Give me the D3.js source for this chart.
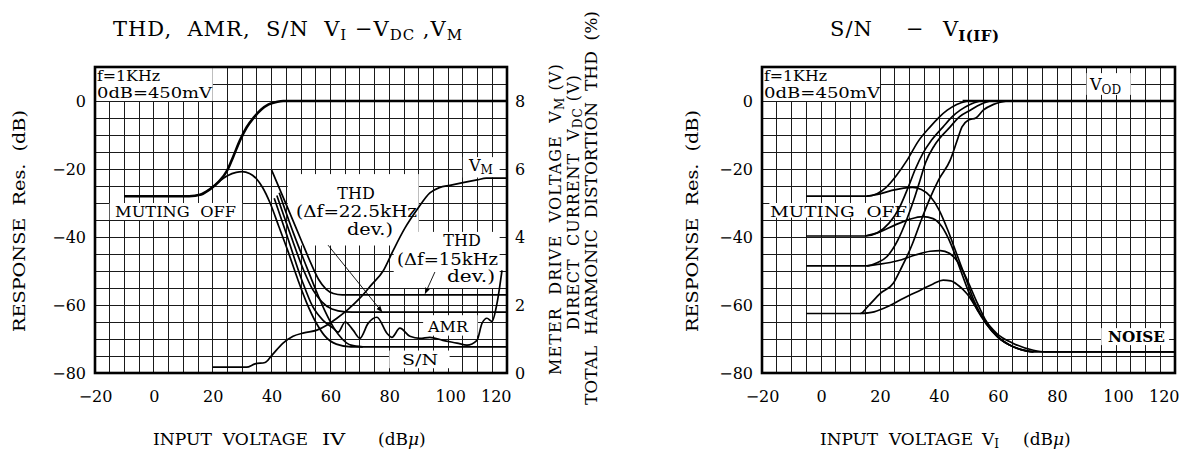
<!DOCTYPE html>
<html>
<head>
<meta charset="utf-8">
<script src="https://cdn.jsdelivr.net/npm/d3@7"></script>
<style>
  body { margin: 0; background: #fff; }
  svg { display: block; }
  text { font-family: "DejaVu Serif", "Liberation Serif", serif; fill: #000; white-space: pre; }
</style>
</head>
<body>
<script>
// ---- data ----
const xTicks = [-20, 0, 20, 40, 60, 80, 100, 120];
const dbTicks = [-80, -60, -40, -20, 0];
const voltTicks = [0, 2, 4, 6, 8];

// left chart: [input dBu, response dB]
const outputLevel = [[-10,-28],[12,-28],[16,-27.5],[19,-26],[22,-23.8],[25,-20.3],[27,-16.3],[29.3,-11.5],[31.5,-7.8],[34,-4.8],[36.5,-2.5],[39,-1],[42,-0.2],[44,0],[120,0]];
const snMutingOff = [[-10,-28],[12,-28],[16,-27.5],[19,-26],[22,-23.8],[25,-22],[28,-21],[30,-20.8],[32.5,-21.3],[35,-23],[37,-25.5],[39.5,-30],[42.5,-37],[45.5,-44],[49,-52.7],[52,-59.5],[55,-65],[58,-69],[62,-71.5],[67,-72.3],[120,-72.3]];
const thd15 = [[40,-20.3],[45,-30.5],[50,-40.8],[53.5,-48],[56,-52.5],[58.5,-55.3],[61,-56.6],[64,-57],[120,-57]];
const thd225 = [[41.8,-27.8],[46.5,-39.5],[51,-50],[54,-55.5],[57,-59],[60.5,-61.2],[65,-62],[70,-62.1],[120,-62.1]];
const amrLevel = [[40.9,-28.6],[45,-39],[50.3,-52.7],[54,-60.5],[57.5,-64.5],[60.9,-66.8],[62.6,-68],[65,-65],[67.7,-67.4],[70,-69.8],[72.8,-65.4],[75.8,-63.6],[79.2,-68.3],[80.9,-69.5],[83.6,-66.8],[87,-69.2],[90.4,-69.8],[93.8,-69.5],[98.2,-70.4],[103,-71.2],[106.4,-71.8],[109.8,-70.4],[111.5,-65.4],[113.2,-63.9],[114.9,-64.8],[116.6,-59.5],[118.3,-49.8]];
const snMuted = [[42.6,-27],[47.5,-39],[52,-49],[55,-55.5],[58,-61.5],[61,-66.5],[64,-70],[67,-71.8],[71,-72.3]];
// left chart: [input dBu, volts]
const meterDrive = [[20,0.17],[31.5,0.17],[34.4,0.27],[37.8,0.31],[40.1,0.52],[43.9,0.88],[47.3,1.08],[51,1.18],[55.4,1.26],[59,1.42],[62.2,1.61],[66,1.87],[70,2.2],[74,2.6],[77.9,3.0],[81.3,3.6],[85.3,4.26],[89.4,4.8],[93.8,5.3],[97,5.45],[100.6,5.52],[105,5.6],[109.8,5.68],[113,5.73],[120,5.73]];

// right chart: [input dBu, response dB]
const vodLine = [[48,0],[120,0]];
const signal28 = [[-5,-28],[15.6,-28],[19,-27.3],[22,-25.5],[25.5,-22],[29.2,-17.4],[33,-11.8],[37,-7.6],[40,-4.8],[42.8,-2.7],[46,-1],[49.6,0]];
const signal40 = [[-5,-39.7],[15,-39.7],[19,-38.8],[23,-36],[26.5,-31.5],[29.5,-25.5],[32,-20],[34.5,-15.5],[37.5,-11.5],[41.4,-7.6],[44.5,-4.6],[47.2,-2.7],[50.5,-1],[53.9,0]];
const signal49 = [[-5,-48.5],[15.6,-48.5],[19,-47.6],[22.3,-45.8],[26,-41],[29,-35],[31.5,-29],[33.5,-23.5],[35.5,-18],[38.5,-13],[43.8,-7.6],[47,-4.6],[50.6,-2.7],[54,-1],[57.3,0]];
const signal63 = [[-5,-62.5],[13.3,-62.5],[16,-60.3],[20.1,-56.6],[24.5,-53.6],[27,-49.5],[29.1,-45.8],[31,-42],[34,-35],[37,-28.5],[40,-23],[43.8,-17.4],[46,-12],[47.8,-7.6],[50,-5.6],[52.5,-5],[55,-2.7],[58.5,-1],[63.1,0]];
const noise28 = [[15.6,-28],[20,-27.3],[24,-26.3],[28,-25.6],[31,-25.4],[34,-26],[37,-28],[40,-32],[43,-38],[46,-45],[49,-52],[52,-59],[56,-65.5],[60,-69.5],[65,-72.2],[72,-73.8],[120,-73.8]];
const noise40 = [[15,-39.7],[20,-38.5],[25,-36.5],[30,-34.8],[34.5,-34],[38,-34.6],[41,-37],[44,-42],[47,-49],[50,-56],[53,-61.5],[56,-65.5],[60,-69.5],[65,-72.2],[72,-73.8]];
const noise49 = [[15.6,-48.5],[20,-48],[26,-47],[32,-45.3],[37,-44.2],[40.5,-44],[43.5,-44.8],[46.5,-47.5],[49.5,-52.5],[52.5,-58.5],[55.5,-64],[59,-68.5],[64,-71.8],[72,-73.8]];
const noise63 = [[13.3,-62.5],[18,-62],[23,-60.3],[28,-58],[34,-55.5],[38,-53.8],[41.4,-52.7],[44,-52.9],[46.5,-54.2],[49.4,-56.6],[53.9,-62.5],[57,-66],[59.6,-68.4],[65.2,-71.3],[72,-73.3],[76,-73.8],[120,-73.8]];

// ---- drawing ----
const W = 1184, H = 455;
const svg = d3.select("body").append("svg").attr("width", W).attr("height", H);
svg.append("rect").attr("width", W).attr("height", H).attr("fill", "#fff");

const minus = d => (d < 0 ? "\u2212" + Math.abs(d) : String(d));

const txt = (g, s, x, y, opt = {}) => {
  const t = g.append("text")
    .attr("x", x).attr("y", y)
    .attr("font-size", opt.size || 16)
    .attr("text-anchor", opt.anchor || "start")
    .text(s);
  if (opt.len) t.attr("textLength", opt.len).attr("lengthAdjust", "spacingAndGlyphs");
  if (opt.weight) t.attr("font-weight", opt.weight);
  if (opt.ls) t.attr("letter-spacing", opt.ls);
  return t;
};
const sub = (t, s, size, dy) => {
  t.append("tspan").attr("font-size", size).attr("dy", dy).text(s);
  return t;
};

// one grid panel, returns scales
const makePanel = (x0, x1, y0, y1) => {
  const x = d3.scaleLinear().domain([-20, 120]).range([x0, x1]);
  const y = d3.scaleLinear().domain([-80, 10]).range([y1, y0]);
  const g = svg.append("g");
  const grid = g.append("g").attr("stroke", "#1a1a1a").attr("stroke-width", 1).attr("shape-rendering", "crispEdges");
  grid.selectAll(".gx").data(d3.range(-20, 121, 5)).enter().append("line")
    .attr("x1", d => x(d)).attr("x2", d => x(d)).attr("y1", y0).attr("y2", y1);
  grid.selectAll(".gy").data(d3.range(-80, 11, 5)).enter().append("line")
    .attr("y1", d => y(d)).attr("y2", d => y(d)).attr("x1", x0).attr("x2", x1);
  const boxes = g.append("g");
  const curves = g.append("g").attr("fill", "none").attr("stroke", "#000").attr("stroke-linejoin", "round");
  g.append("rect").attr("x", x0).attr("y", y0).attr("width", x1 - x0).attr("height", y1 - y0)
    .attr("fill", "none").attr("stroke", "#000").attr("stroke-width", 2.6);
  const labels = g.append("g");

  // axes
  const ax = g.append("g").attr("transform", `translate(0,${y1})`)
    .call(d3.axisBottom(x).tickValues(xTicks).tickSize(0).tickPadding(18).tickFormat(minus));
  const ay = g.append("g").attr("transform", `translate(${x0},0)`)
    .call(d3.axisLeft(y).tickValues(dbTicks).tickSize(0).tickPadding(9).tickFormat(minus));
  [ax, ay].forEach(a => {
    a.select(".domain").remove();
    a.selectAll("text").attr("font-family", "DejaVu Serif").attr("font-size", 16).attr("fill", "#000");
    a.attr("font-family", null).attr("font-size", null);
  });
  // last label sits inside the frame edge, as printed
  ax.selectAll(".tick").filter(d => d === 120).select("text").attr("text-anchor", "end").attr("x", 4);
  ax.selectAll(".tick").filter(d => d === 100).select("text").attr("x", 2);

  const box = (a, b, c, d) => boxes.append("rect")
    .attr("x", x(a)).attr("y", y(c)).attr("width", x(b) - x(a)).attr("height", y(d) - y(c)).attr("fill", "#fff");
  const line = (data, w, sy) => curves.append("path").datum(data)
    .attr("stroke-width", w)
    .attr("d", d3.line().x(d => x(d[0])).y(d => (sy || y)(d[1])).curve(d3.curveMonotoneX));
  return { x, y, g, labels, box, line };
};

// ---------------- left chart ----------------
const L = makePanel(95, 507, 67, 373);
const yV = d3.scaleLinear().domain([0, 8]).range([L.y(-80), L.y(0)]);
const av = L.g.append("g").attr("transform", "translate(507,0)")
  .call(d3.axisRight(yV).tickValues(voltTicks).tickSize(0).tickPadding(8));
av.select(".domain").remove();
av.selectAll("text").attr("font-family", "DejaVu Serif").attr("font-size", 16).attr("fill", "#000");
av.attr("font-family", null).attr("font-size", null);

L.box(-20, 20, 10, 0);
L.box(-15, 30, -30, -35);
L.box(45.5, 90, -21.5, -42.5);
L.box(81.5, 117.5, -38.5, -55);
L.box(105, 117.5, -16.5, -22.5);
L.box(91.5, 110, -63, -69);
L.box(80, 100.5, -73.4, -78.6);

L.line(outputLevel, 2.6);
L.line(snMutingOff, 1.7);
L.line(thd15, 1.7);
L.line(thd225, 1.7);
L.line(amrLevel, 1.7);
L.line(snMuted, 1.7);
L.line(meterDrive, 1.7, yV);

const ll = L.labels;
txt(ll, "f=1KHz", 97, 81, { size: 15, len: 63 });
txt(ll, "0dB=450mV", 97, 98, { size: 15, len: 115 });
txt(ll, "MUTING  OFF", 115, 216.5, { size: 15, len: 121 });
txt(ll, "THD", 356, 198.5, { anchor: "middle", size: 16 });
txt(ll, "(\u0394f=22.5kHz", 296, 217, { size: 16, len: 121 });
txt(ll, "dev.)", 347, 235, { size: 16, len: 46 });
txt(ll, "THD", 462, 246, { anchor: "middle", size: 16 });
txt(ll, "(\u0394f=15kHz", 397, 265, { size: 16, len: 101 });
txt(ll, "dev.)", 447, 282, { size: 16, len: 48 });
sub(txt(ll, "V", 469, 171, { size: 16 }), "M", 12, 3);
txt(ll, "AMR", 428, 332, { size: 15, len: 40 });
txt(ll, "S/N", 402, 365, { size: 15, len: 36 });

// leader arrows
const defs = svg.append("defs");
defs.append("marker").attr("id", "ah").attr("viewBox", "0 0 10 10").attr("refX", 9).attr("refY", 5)
  .attr("markerWidth", 7).attr("markerHeight", 7).attr("orient", "auto")
  .append("path").attr("d", "M0,1 L10,5 L0,9 z").attr("fill", "#000");
ll.append("line").attr("x1", L.x(59.2)).attr("y1", L.y(-42.4)).attr("x2", L.x(77.5)).attr("y2", L.y(-62))
  .attr("stroke", "#000").attr("stroke-width", 0.9).attr("marker-end", "url(#ah)");
ll.append("line").attr("x1", L.x(95.5)).attr("y1", L.y(-50.3)).attr("x2", L.x(92.2)).attr("y2", L.y(-56.6))
  .attr("stroke", "#000").attr("stroke-width", 0.9).attr("marker-end", "url(#ah)");

// titles and axis names
const t1 = txt(svg, "THD,  AMR,  S/N  V", 113, 36, { size: 21, ls: 1 });
sub(t1, "I", 15, 4);
t1.append("tspan").attr("dy", -4).text(" \u2212V");
sub(t1, "DC", 15, 4);
t1.append("tspan").attr("dy", -4).text(" ,V");
sub(t1, "M", 15, 4);

txt(svg, "INPUT  VOLTAGE", 153, 445, { size: 17, len: 155 });
txt(svg, "IV", 322, 445, { size: 17, len: 23 });
const u1 = txt(svg, "(dB", 378, 445, { size: 17 });
u1.append("tspan").attr("font-style", "italic").text("\u03bc");
u1.append("tspan").text(")");

txt(svg, "RESPONSE  Res.  (dB)", 0, 0, { size: 16, anchor: "middle", len: 222 })
  .attr("transform", "translate(25,221) rotate(-90)");

const r1 = txt(svg, "METER  DRIVE  VOLTAGE  V", 0, 0, { size: 16, ls: 1.1 }).attr("transform", "translate(561,375) rotate(-90)");
sub(r1, "M", 12, 3);
r1.append("tspan").attr("dy", -3).text(" (V)");
const r2 = txt(svg, "DIRECT  CURRENT  V", 0, 0, { size: 16, ls: 1 }).attr("transform", "translate(579,330) rotate(-90)");
sub(r2, "DC", 12, 3);
r2.append("tspan").attr("dy", -3).text(" (V)");
txt(svg, "TOTAL  HARMONIC  DISTORTION  THD  (%)", 0, 0, { size: 17, len: 394 })
  .attr("transform", "translate(597,405) rotate(-90)");

// ---------------- right chart ----------------
const R = makePanel(762, 1175, 67, 373);
R.box(-20, 20, 10, 0);
R.box(-17.5, 30, -30, -34.3);
R.box(90, 105, 8.2, 1.8);
R.box(95, 118, -66.8, -71.8);

[signal28, signal40, signal49, signal63].forEach(s => R.line(s, 1.7));
[noise28, noise40, noise49, noise63].forEach(s => R.line(s, 1.7));
R.line(vodLine, 2.6);

const rl = R.labels;
txt(rl, "f=1KHz", 764, 81, { size: 15, len: 63 });
txt(rl, "0dB=450mV", 764, 98, { size: 15, len: 116 });
txt(rl, "MUTING  OFF", 770, 216.5, { size: 15, len: 137 });
sub(txt(rl, "V", 1090, 90, { size: 16 }), "OD", 12, 4);
txt(rl, "NOISE", 1108, 342, { size: 14, len: 57, weight: "bold" });

txt(svg, "S/N", 830, 36, { size: 21, ls: 1 });
txt(svg, "\u2212", 906, 36, { size: 21 });
const t2 = txt(svg, "V", 943, 36, { size: 21 });
t2.append("tspan").attr("font-size", 15).attr("dy", 5).attr("font-weight", "bold").attr("letter-spacing", 0.5).text("I(IF)");

txt(svg, "INPUT  VOLTAGE", 820, 445, { size: 17, len: 153 });
sub(txt(svg, "V", 982, 445, { size: 17 }), "I", 12, 3);
const u2 = txt(svg, "(dB", 1023, 445, { size: 17 });
u2.append("tspan").attr("font-style", "italic").text("\u03bc");
u2.append("tspan").text(")");

txt(svg, "RESPONSE  Res.  (dB)", 0, 0, { size: 16, anchor: "middle", len: 222 })
  .attr("transform", "translate(698,221) rotate(-90)");
</script>
</body>
</html>
